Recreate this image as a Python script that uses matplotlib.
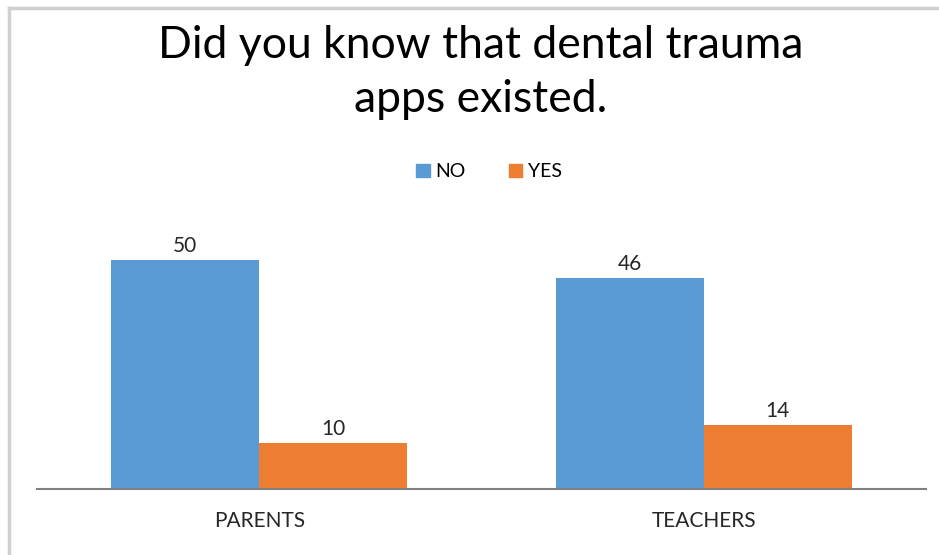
import matplotlib
matplotlib.use("Agg")
import matplotlib.pyplot as plt
import numpy as np
from matplotlib.lines import Line2D
from matplotlib.patches import Patch

categories = ["PARENTS", "TEACHERS"]
series_names = ["NO", "YES"]
no_values = [50, 46]
yes_values = [10, 14]
title_text = "Did you know that dental trauma\napps existed."

blue = "#5B9BD5"
orange = "#ED7D31"
font = "Lato"

W, H = 939, 555
fig = plt.figure(figsize=(W / 100, H / 100), dpi=100)
fig.patch.set_facecolor("white")

# frame lines along the top and left edges
fig.add_artist(Line2D([9 / W, 9 / W], [0, 1 - 8 / H], transform=fig.transFigure,
                      color="#d0d0d0", lw=2.5))
fig.add_artist(Line2D([9 / W, 1], [1 - 8 / H, 1 - 8 / H], transform=fig.transFigure,
                      color="#d0d0d0", lw=2.5))

left, right = 37 / W, 926 / W
bottom = (H - 489) / H
top = (H - 200) / H
ax = fig.add_axes([left, bottom, right - left, top - bottom])

x = np.arange(len(categories))
w = 1 / 3
b1 = ax.bar(x - w / 2, no_values, width=w, color=blue, label="NO")
b2 = ax.bar(x + w / 2, yes_values, width=w, color=orange, label="YES")

for bars, vals in ((b1, no_values), (b2, yes_values)):
    for rect, v in zip(bars, vals):
        ax.annotate(str(v), (rect.get_x() + rect.get_width() / 2, v),
                    xytext=(0, 3), textcoords="offset points",
                    ha="center", va="bottom", fontsize=15, family=font, color="#262626")

ax.set_xlim(-0.5, 1.5)
ax.set_ylim(0, (489 - 200) / 4.58)
ax.set_xticks(x)
ax.set_xticklabels(categories, fontsize=15, family=font, color="#262626")
ax.tick_params(axis="x", length=0, pad=16)
ax.set_yticks([])
for s in ("top", "right", "left"):
    ax.spines[s].set_visible(False)
ax.spines["bottom"].set_color("#808080")
ax.spines["bottom"].set_linewidth(1.5)

# two title lines placed separately for exact spacing
fig.text(481 / W, 1 - 46 / H, title_text.split("\n")[0], ha="center", va="center",
         fontsize=32, family=font, color="black")
fig.text(481 / W, 1 - 100 / H, title_text.split("\n")[1], ha="center", va="center",
         fontsize=32, family=font, color="black")

handles = [Patch(color=blue), Patch(color=orange)]
leg = fig.legend(handles, series_names, loc="center", bbox_to_anchor=(489 / W, 1 - 172 / H),
                 ncol=2, frameon=False, prop={"family": font, "size": 14},
                 handlelength=0.7, handleheight=0.7, handletextpad=0.3,
                 columnspacing=2.2)

fig.savefig("out.png", dpi=100, facecolor="white")
